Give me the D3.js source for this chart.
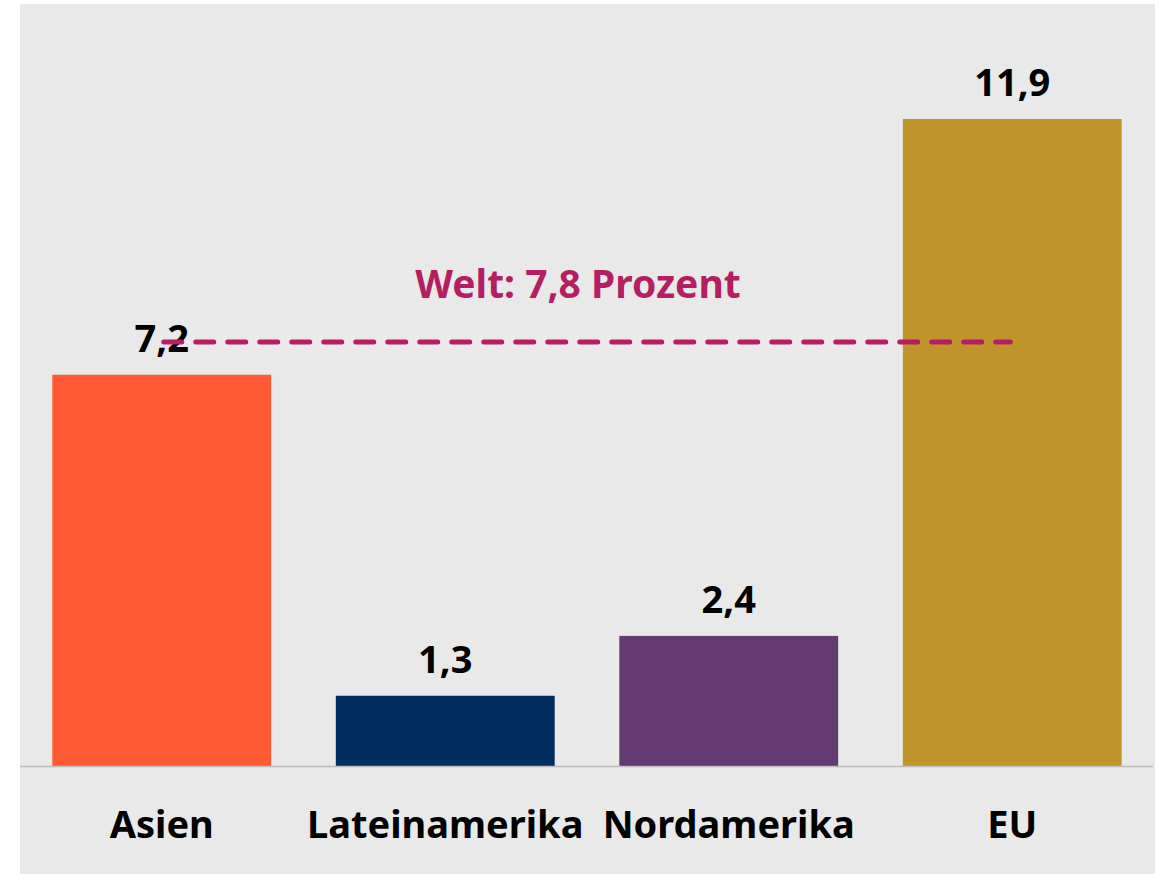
<!DOCTYPE html>
<html>
<head>
<meta charset="utf-8">
<script src="https://cdn.jsdelivr.net/npm/d3@7"></script>
<style>
  body { margin: 0; background: #ffffff; }
  svg text { font-family: "Noto Sans", "Open Sans", sans-serif; font-weight: bold; }
</style>
</head>
<body>
<div id="chart"></div>
<script>
var categories = ["Asien", "Lateinamerika", "Nordamerika", "EU"];
var values = [7.2, 1.3, 2.4, 11.9];
var barColors = ["#ff5a33", "#002d5f", "#633a71", "#bf942b"];
var worldValue = 7.8;
var worldLabel = "Welt: 7,8 Prozent";

var width = 1161;
var height = 874;
var panel = { left: 20, top: 4, right: 1155, bottom: 874 };
var baseline = 766.5;

var svg = d3.select("#chart")
  .append("svg")
  .attr("width", width)
  .attr("height", height);

svg.append("rect")
  .attr("x", panel.left)
  .attr("y", panel.top)
  .attr("width", panel.right - panel.left)
  .attr("height", panel.bottom - panel.top)
  .attr("fill", "#e9e9e9");

var x = d3.scaleBand()
  .domain(categories)
  .range([20, 1154])
  .paddingInner(0.228)
  .paddingOuter(0.114);

var y = d3.scaleLinear()
  .domain([0, 11.9])
  .range([baseline, 119]);

var fmt = function(v) { return d3.format(".1f")(v).replace(".", ","); };

svg.selectAll(".bar")
  .data(values)
  .enter()
  .append("rect")
  .attr("class", "bar")
  .attr("x", function(d, i) { return x(categories[i]); })
  .attr("y", function(d) { return y(d); })
  .attr("width", x.bandwidth())
  .attr("height", function(d) { return baseline - y(d); })
  .attr("fill", function(d, i) { return barColors[i]; });

// baseline
svg.append("line")
  .attr("x1", panel.left)
  .attr("x2", panel.right - 2)
  .attr("y1", baseline)
  .attr("y2", baseline)
  .attr("stroke", "#bdbdbd")
  .attr("stroke-width", 1.5);

// value labels
svg.selectAll(".value")
  .data(values)
  .enter()
  .append("text")
  .attr("class", "value")
  .attr("x", function(d, i) { return x(categories[i]) + x.bandwidth() / 2; })
  .attr("y", function(d) { return y(d) - 23; })
  .attr("text-anchor", "middle")
  .attr("font-size", "38px")
  .attr("fill", "#000")
  .text(function(d) { return fmt(d); });

// category labels
svg.selectAll(".name")
  .data(categories)
  .enter()
  .append("text")
  .attr("class", "name")
  .attr("x", function(d) { return x(d) + x.bandwidth() / 2; })
  .attr("y", 838)
  .attr("text-anchor", "middle")
  .attr("font-size", "38px")
  .attr("fill", "#000")
  .text(function(d) { return d; });

// world average line
var x1 = x(categories[0]) + x.bandwidth() / 2;
var x2 = x(categories[categories.length - 1]) + x.bandwidth() / 2;

svg.append("line")
  .attr("x1", x1 + 2)
  .attr("x2", x2 - 2)
  .attr("y1", y(worldValue))
  .attr("y2", y(worldValue))
  .attr("stroke", "#b31f62")
  .attr("stroke-width", 5)
  .attr("stroke-linecap", "round")
  .attr("stroke-dasharray", "18,14");

svg.append("text")
  .attr("x", (x1 + x2) / 2 - 9)
  .attr("y", y(worldValue) - 44)
  .attr("text-anchor", "middle")
  .attr("font-size", "39px")
  .attr("fill", "#b31f62")
  .text(worldLabel);
</script>
</body>
</html>
